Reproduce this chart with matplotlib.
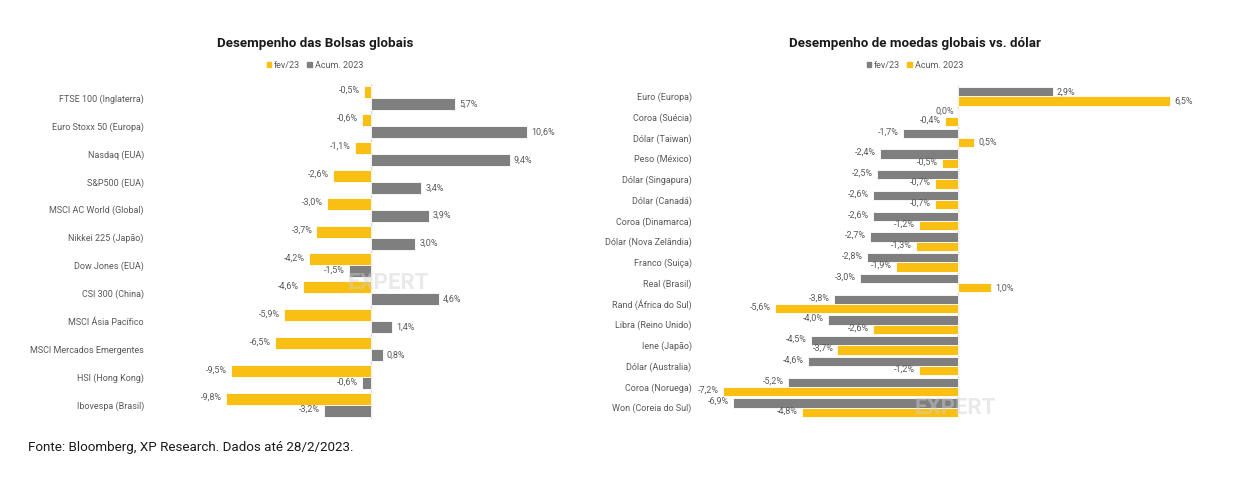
import matplotlib.pyplot as plt
import numpy as np

plt.rcParams['font.family'] = ['Roboto', 'DejaVu Sans']

YELLOW = '#F9C013'
GREY = '#7F7F7F'
TXT = '#595959'

# Bolsas
bolsas = ['FTSE 100 (Inglaterra)', 'Euro Stoxx 50 (Europa)', 'Nasdaq (EUA)', 'S&P500 (EUA)',
          'MSCI AC World (Global)', 'Nikkei 225 (Japão)', 'Dow Jones (EUA)', 'CSI 300 (China)',
          'MSCI Ásia Pacífico', 'MSCI Mercados Emergentes', 'HSI (Hong Kong)', 'Ibovespa (Brasil)']
bolsas_fev = [-0.5, -0.6, -1.1, -2.6, -3.0, -3.7, -4.2, -4.6, -5.9, -6.5, -9.5, -9.8]
bolsas_acum = [5.7, 10.6, 9.4, 3.4, 3.9, 3.0, -1.5, 4.6, 1.4, 0.8, -0.6, -3.2]

# Moedas
moedas = ['Euro (Europa)', 'Coroa (Suécia)', 'Dólar (Taiwan)', 'Peso (México)', 'Dólar (Singapura)',
          'Dólar (Canadá)', 'Coroa (Dinamarca)', 'Dólar (Nova Zelândia)', 'Franco (Suiça)',
          'Real (Brasil)', 'Rand (África do Sul)', 'Libra (Reino Unido)', 'Iene (Japão)',
          'Dólar (Australia)', 'Coroa (Noruega)', 'Won (Coreia do Sul)']
moedas_fev = [2.9, 0.0, -1.7, -2.4, -2.5, -2.6, -2.6, -2.7, -2.8, -3.0, -3.8, -4.0, -4.5, -4.6, -5.2, -6.9]
moedas_acum = [6.5, -0.4, 0.5, -0.5, -0.7, -0.7, -1.2, -1.3, -1.9, 1.0, -5.6, -2.6, -3.7, -1.2, -7.2, -4.8]

W, H = 1240, 482
fig = plt.figure(figsize=(W / 100, H / 100), dpi=100)


def px_axes(x0, y0, x1, y1):
    return fig.add_axes([x0 / W, 1 - y1 / H, (x1 - x0) / W, (y1 - y0) / H])


def fmt(v):
    return f'{v:.1f}%'.replace('.', ',')


def draw(ax, cats, top, bottom, top_color, bot_color, h, xlim):
    y = np.arange(len(cats))
    ax.barh(y - h / 2, top, height=h, color=top_color, edgecolor='white', linewidth=0.6, zorder=2)
    ax.barh(y + h / 2, bottom, height=h, color=bot_color, edgecolor='white', linewidth=0.6, zorder=2)
    for vals, off in ((top, -h / 2), (bottom, h / 2)):
        for yi, v in zip(y, vals):
            if v > 0:
                ax.annotate(fmt(v), (v, yi + off), xytext=(3, 0), textcoords='offset points',
                            ha='left', va='center', fontsize=6.5, color=TXT)
            else:
                ax.annotate(fmt(v), (v, yi + off), xytext=(-3, 1), textcoords='offset points',
                            ha='right', va='center', fontsize=6.5, color=TXT)
    ax.axvline(0, color='#D9D9D9', linewidth=1, zorder=1)
    ax.set_xlim(*xlim)
    ax.set_ylim(len(cats) - 0.5, -0.5)
    ax.set_yticks(y)
    ax.set_yticklabels(cats, fontsize=6.5, color=TXT)
    ax.set_xticks([])
    for s in ax.spines.values():
        s.set_visible(False)


# left chart: zero at x=371, ~14.75 px per %
ax1 = px_axes(371 - 10.5 * 14.75, 84, 371 + 12.5 * 14.75, 419)
draw(ax1, bolsas, bolsas_fev, bolsas_acum, YELLOW, GREY, 0.43, (-10.5, 12.5))
ax1.tick_params(axis='y', length=0, pad=52)

# right chart: zero at x=958, ~32.6 px per %
ax2 = px_axes(958 - 8 * 32.6, 86, 958 + 7.5 * 32.6, 418)
draw(ax2, moedas, moedas_fev, moedas_acum, GREY, YELLOW, 0.45, (-8, 7.5))
ax2.tick_params(axis='y', length=0, pad=4)

# titles
fig.text(315 / W, 1 - 44 / H, 'Desempenho das Bolsas globais', ha='center', va='center',
         fontsize=9.6, fontweight='bold', color='#1A1A1A')
fig.text(915 / W, 1 - 44 / H, 'Desempenho de moedas globais vs. dólar', ha='center', va='center',
         fontsize=9.6, fontweight='bold', color='#1A1A1A')

# legends
for x_c, c1, c2 in ((315, YELLOW, GREY), (915, GREY, YELLOW)):
    handles = [plt.Rectangle((0, 0), 1, 1, color=c1), plt.Rectangle((0, 0), 1, 1, color=c2)]
    leg = fig.legend(handles, ['fev/23', 'Acum. 2023'], loc='center', ncol=2,
                     bbox_to_anchor=(x_c / W, 1 - 65 / H), frameon=False, fontsize=6.5,
                     handlelength=0.5, handleheight=0.5, handletextpad=0.3, columnspacing=0.8)
    for t in leg.get_texts():
        t.set_color(TXT)

# watermarks
fig.text(388 / W, 1 - 283 / H, 'EXPERT', ha='center', va='center', fontsize=16,
         fontweight='bold', color='#D0D0D0', alpha=0.45, zorder=5)
fig.text(955 / W, 1 - 408 / H, 'EXPERT', ha='center', va='center', fontsize=16,
         fontweight='bold', color='#D0D0D0', alpha=0.45, zorder=5)

fig.text(28 / W, 1 - 447 / H, 'Fonte: Bloomberg, XP Research. Dados até 28/2/2023.',
         ha='left', va='center', fontsize=9.6, color='#1A1A1A')

fig.savefig('out.png', dpi=100, facecolor='white')
